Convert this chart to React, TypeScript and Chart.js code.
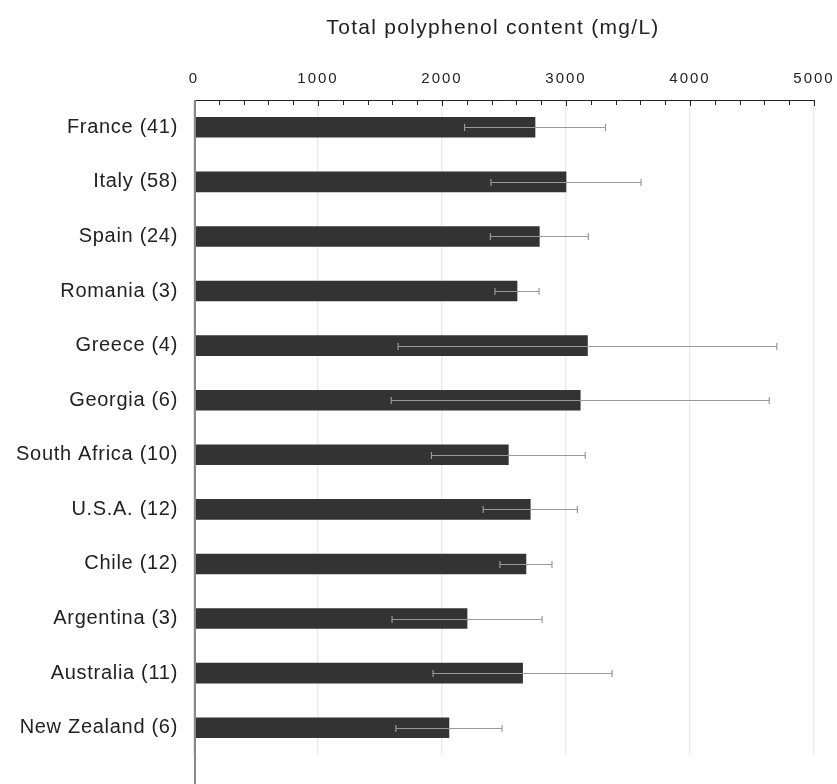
import React, { useEffect, useRef } from "react";
import { Chart, registerables } from "chart.js";

Chart.register(...registerables);

// Country (number of samples)
const countries = [
  "France (41)",
  "Italy (58)",
  "Spain (24)",
  "Romania (3)",
  "Greece (4)",
  "Georgia (6)",
  "South Africa (10)",
  "U.S.A. (12)",
  "Chile (12)",
  "Argentina (3)",
  "Australia (11)",
  "New Zealand (6)",
];

// Mean total polyphenol content, mg/L
const means = [2750, 3000, 2785, 2605, 3173, 3115, 2535, 2712, 2677, 2202, 2650, 2056];

// Standard deviation, mg/L
const deviations = [568, 605, 395, 178, 1527, 1524, 620, 380, 210, 605, 722, 428];

const axisMin = 0;
const axisMax = 5000;
const majorStep = 1000;
const minorStep = 200;

const titleText = "Total polyphenol content (mg/L)";
const FONT = '"Liberation Sans", Arial, Helvetica, sans-serif';

const WIDTH = 837;
const HEIGHT = 784;

// Open tracking for each scale's labels (Chrome's 2D context letterSpacing)
function trackLabels(scale: any, spacing: string) {
  if (!scale || scale.__tracked === spacing) return;
  const original = scale.constructor.prototype.drawLabels;
  scale.drawLabels = function (area: any) {
    const ctx = this.ctx;
    const prev = ctx.letterSpacing;
    ctx.letterSpacing = spacing;
    original.call(this, area);
    ctx.letterSpacing = prev;
  };
  scale.__tracked = spacing;
}

const spacingPlugin = {
  id: "letterSpacing",
  beforeDraw(chart: any) {
    trackLabels(chart.scales.x, "2px");
    trackLabels(chart.scales.y, "0.7px");
  },
};

// Error bars (mean ± SD) over each bar
const errorBarPlugin = {
  id: "errorBars",
  afterDatasetsDraw(chart: any) {
    const { ctx } = chart;
    const xs = chart.scales.x;
    const meta = chart.getDatasetMeta(0);
    ctx.save();
    ctx.strokeStyle = "#999999";
    ctx.lineWidth = 1.2;
    meta.data.forEach((bar: any, i: number) => {
      const y = Math.round(bar.y) + 0.5;
      const x1 = xs.getPixelForValue(means[i] - deviations[i]);
      const x2 = xs.getPixelForValue(means[i] + deviations[i]);
      ctx.beginPath();
      ctx.moveTo(x1, y);
      ctx.lineTo(x2, y);
      ctx.moveTo(x1, y - 3.5);
      ctx.lineTo(x1, y + 3.5);
      ctx.moveTo(x2, y - 3.5);
      ctx.lineTo(x2, y + 3.5);
      ctx.stroke();
    });
    ctx.restore();
  },
};

// Inward tick marks on the top axis, left axis line and the title
const framePlugin = {
  id: "frame",
  afterDraw(chart: any) {
    const { ctx, chartArea } = chart;
    const xs = chart.scales.x;
    ctx.save();
    ctx.strokeStyle = "#222222";
    ctx.lineWidth = 1;
    for (let v = axisMin; v <= axisMax; v += minorStep) {
      const x = Math.round(xs.getPixelForValue(v)) + 0.5;
      const len = v % majorStep === 0 ? 6 : 5;
      ctx.beginPath();
      ctx.moveTo(x, chartArea.top);
      ctx.lineTo(x, chartArea.top + len);
      ctx.stroke();
    }
    ctx.strokeStyle = "#888888";
    ctx.lineWidth = 2;
    const x0 = Math.round(chartArea.left) + 1;
    ctx.beginPath();
    ctx.moveTo(x0, chartArea.top);
    ctx.lineTo(x0, chart.height);
    ctx.stroke();

    ctx.letterSpacing = "1.3px";
    ctx.fillStyle = "#222222";
    ctx.font = `21px ${FONT}`;
    ctx.textAlign = "center";
    ctx.textBaseline = "alphabetic";
    ctx.fillText(titleText, 493, 34);
    ctx.restore();
  },
};

export default function App() {
  const canvasRef = useRef<HTMLCanvasElement | null>(null);

  useEffect(() => {
    if (!canvasRef.current) return;
    Chart.defaults.font.family = FONT;
    const chart = new Chart(canvasRef.current, {
      type: "bar",
      data: {
        labels: countries,
        datasets: [
          {
            data: means,
            backgroundColor: "#333333",
            borderWidth: 0,
            barThickness: 20,
          },
        ],
      },
      options: {
        indexAxis: "y",
        responsive: false,
        animation: false,
        layout: { padding: { top: 0, right: 23, bottom: 29, left: 0 } },
        plugins: {
          legend: { display: false },
          title: { display: false },
          tooltip: { enabled: false },
        },
        scales: {
          x: {
            type: "linear",
            position: "top",
            min: axisMin,
            max: axisMax,
            ticks: {
              stepSize: majorStep,
              color: "#222222",
              font: { size: 15 },
              padding: 12,
              callback: (v: any) => String(v),
            },
            grid: { color: "#ebebeb", lineWidth: 1.5, drawTicks: false },
            border: { display: true, color: "#222222", width: 1 },
            afterFit: (s: any) => {
              s.height = 100;
              s.paddingLeft = 0;
              s.paddingRight = 0;
            },
          },
          y: {
            type: "category",
            offset: true,
            grid: { display: false, drawTicks: false },
            border: { display: false },
            ticks: {
              color: "#222222",
              font: { size: 20 },
              padding: 16,
            },
            afterFit: (s: any) => {
              s.width = 194;
              s.paddingTop = 0;
              s.paddingBottom = 0;
            },
          },
        },
      },
      plugins: [spacingPlugin, errorBarPlugin, framePlugin],
    });
    return () => chart.destroy();
  }, []);

  return (
    <div style={{ position: "fixed", left: 0, top: 0, width: WIDTH, height: HEIGHT, background: "#ffffff" }}>
      <canvas ref={canvasRef} width={WIDTH} height={HEIGHT} style={{ display: "block" }} />
    </div>
  );
}
